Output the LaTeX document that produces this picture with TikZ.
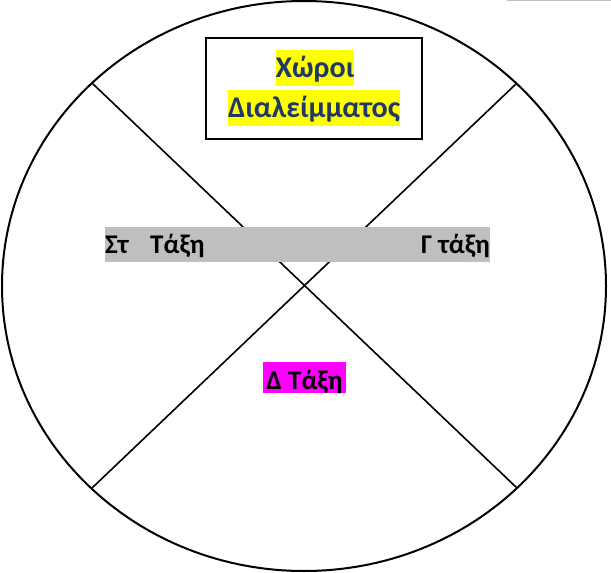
\documentclass[tikz,border=0pt]{standalone}
\usepackage{fontspec}
\setmainfont{Carlito}
\definecolor{titleblue}{RGB}{32,56,100}
\definecolor{bargray}{RGB}{191,191,191}
\definecolor{hiyellow}{RGB}{255,255,0}
\definecolor{himagenta}{RGB}{255,0,255}

\begin{document}
\begin{tikzpicture}[
		x=1pt, y=-1pt,
		txt/.style = {font=\fontsize{27}{32}\selectfont\bfseries, inner sep=0pt},
		hilite/.style = {txt, font=\fontsize{30}{34}\selectfont\bfseries, fill=hiyellow, text=titleblue, text height=27, text depth=9},
		divider/.style = {line width=1.6pt}
	]
	\useasboundingbox (0,0) rectangle (611,573);
	% outer circle
	\draw[line width=2pt] (304,286) ellipse [x radius=302pt, y radius=285pt];
	\draw[black!25, line width=1pt] (507,0.5) -- (611,0.5);
	\coordinate (nw) at (92,83);
	\coordinate (ne) at (517,83);
	\coordinate (sw) at (92,488);
	\coordinate (se) at (517,488);
	\draw[divider] (nw) -- (se);
	\draw[divider] (ne) -- (sw);
	% break rooms
	\node[draw, line width=1.6pt, minimum width=216, minimum height=101] (box) at (314,88.5) {};
	\node[hilite, minimum width=78] (x1) at (315,68) {Χώροι};
	\node[hilite, minimum width=168] (x2) at (314,108) {Διαλείμματος};
	% classes
	\node[fill=bargray, minimum width=385, minimum height=35, inner sep=0pt] (bar) at (297.5,244.5) {};
	\node[txt, anchor=base west] (st) at (105,253.5) {Στ};
	\node[txt, anchor=base west] (st2) at (150,253.5) {Τάξη};
	\node[txt, anchor=base east] (g) at (490,253.5) {Γ τάξη};
	\node[txt, font=\fontsize{27}{30}\selectfont\bfseries, fill=himagenta, minimum width=83, text height=27, text depth=4] (d) at (304.5,377.5) {Δ Τάξη};
\end{tikzpicture}
\end{document}
